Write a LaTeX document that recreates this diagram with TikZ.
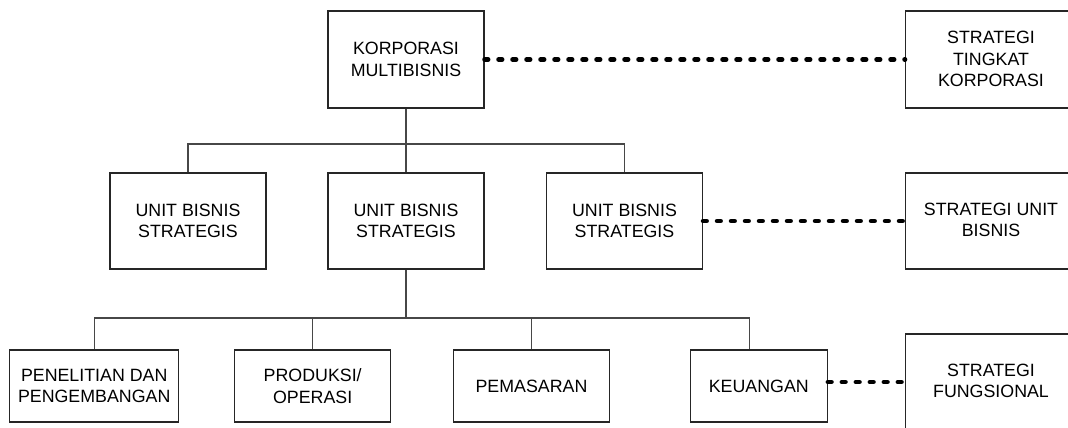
\documentclass[tikz,border=0pt]{standalone}
\usepackage{fontspec}
\setmainfont{Liberation Sans}
\begin{document}
\begin{tikzpicture}[x=1pt,y=-1pt,
  box/.style={draw=black!85, line width=1.1pt, inner sep=0pt, align=center,
    font=\fontsize{17.8}{21.7}\selectfont},
  txt/.style={inner sep=0pt, align=center, font=\fontsize{17.8}{21.7}\selectfont},
  link/.style={draw=black!72, line width=1.1pt},
  dots/.style={draw=black, line width=4.6pt, line cap=round, dash pattern=on 3.6pt off 10.4pt}]
\useasboundingbox (0,0) rectangle (1068,428);
\clip (0,0) rectangle (1068,428);
% top
\node[box, minimum width=156pt, minimum height=97pt] (korp) at (406,59.5) {KORPORASI\\MULTIBISNIS};
% middle
\node[box, minimum width=156pt, minimum height=96pt] (ub1) at (188,221) {UNIT BISNIS\\STRATEGIS};
\node[box, minimum width=156pt, minimum height=96pt] (ub2) at (406,221) {UNIT BISNIS\\STRATEGIS};
\node[box, minimum width=156pt, minimum height=96pt] (ub3) at (624.5,221) {UNIT BISNIS\\STRATEGIS};
% bottom
\node[box, minimum width=168.6pt, minimum height=72pt] (pd) at (94.2,386) {PENELITIAN DAN\\PENGEMBANGAN};
\node[box, minimum width=156pt, minimum height=72pt] (po) at (312.7,386) {PRODUKSI/\\OPERASI};
\node[box, minimum width=156pt, minimum height=72pt] (pm) at (531.5,386) {PEMASARAN};
\node[box, minimum width=137pt, minimum height=72pt] (ku) at (758.8,386) {KEUANGAN};
% right column (boxes run past the picture edge)
\node[box, anchor=west, minimum width=180pt, minimum height=97pt] (stk) at (905,59.5) {};
\node[txt] (stkt) at (991,59) {STRATEGI\\TINGKAT\\KORPORASI};
\node[box, anchor=west, minimum width=180pt, minimum height=96pt] (sub) at (905,221) {};
\node[txt] (subt) at (991,220) {STRATEGI UNIT\\BISNIS};
\node[box, anchor=west, minimum width=180pt, minimum height=100pt] (sf) at (905,384) {};
\node[txt] (sft) at (991,381) {STRATEGI\\FUNGSIONAL};
% junctions
\coordinate (j1) at (406,144);
\coordinate (j2) at (406,318);
% tree connectors
\draw[link] (korp.south) -- (ub2.north);
\draw[link] (ub1.north) |- (j1) -| (ub3.north);
\draw[link] (ub2.south) -- (j2);
\draw[link] (pd.north) |- (j2) -| ([xshift=-9.5pt]ku.north);
\draw[link] (po.north) -- (po.north |- j2);
\draw[link] (pm.north) -- (pm.north |- j2);
% dotted links
\draw[dots] (korp.east) -- (korp.east -| stk.west);
\draw[dots] (ub3.east) -- (ub3.east -| sub.west);
\draw[dots] ([yshift=4pt]ku.east) -- ([yshift=4pt]ku.east -| sf.west);
\end{tikzpicture}
\end{document}
